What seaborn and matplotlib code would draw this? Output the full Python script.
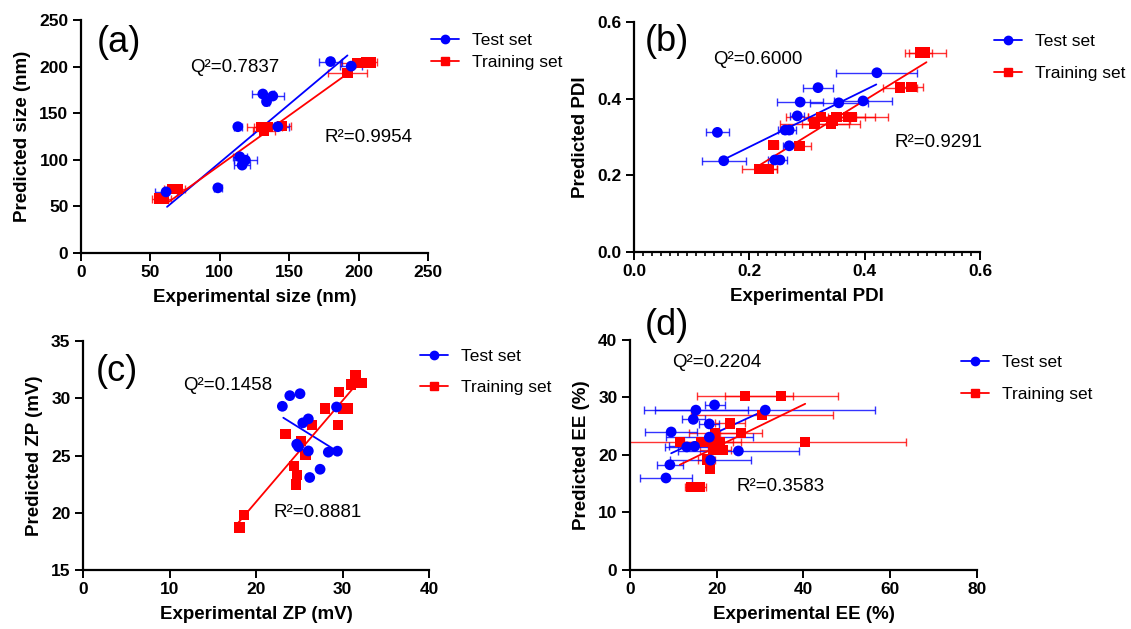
import matplotlib
matplotlib.use("Agg")
import matplotlib.pyplot as plt
from matplotlib.lines import Line2D
from matplotlib.ticker import MultipleLocator, FormatStrFormatter
import numpy as np
import seaborn as sns

# ---- (a) size ----
a_test_x = [179.8, 194.7, 131.0, 138.2, 133.7, 113.0, 141.8, 114.4, 118.5, 116.1, 98.6, 61.3]
a_test_y = [205.4, 200.5, 170.6, 168.4, 162.4, 135.5, 135.5, 103.2, 99.6, 94.3, 69.9, 65.6]
a_test_err = [8, 8, 8, 8, 2, 3, 8, 5, 8, 6, 3, 8]
a_train_x = [199.2, 205.5, 209.0, 192.0, 129.5, 132.0, 134.5, 145.0, 66.0, 70.0, 56.0, 59.6]
a_train_y = [203.5, 204.5, 204.5, 193.0, 135.0, 131.0, 135.5, 136.0, 69.0, 69.0, 58.4, 58.4]
a_train_err = [12, 5, 4, 14, 10, 8, 10, 6, 6, 5, 5, 5]
a_test_fit = ([62.0, 192.0], [49.5, 212.0])
a_train_fit = ([63.2, 201.0], [54.8, 202.0])

# ---- (b) PDI ----
b_test_x = [0.421, 0.319, 0.288, 0.355, 0.397, 0.283, 0.262, 0.269, 0.1445, 0.269, 0.1555, 0.244, 0.253]
b_test_y = [0.4675, 0.4286, 0.391, 0.389, 0.394, 0.355, 0.318, 0.318, 0.312, 0.277, 0.238, 0.240, 0.240]
b_test_err = [0.07, 0.026, 0.04, 0.05, 0.05, 0.012, 0.012, 0.012, 0.02, 0.01, 0.038, 0.012, 0.012]
b_train_x = [0.496, 0.505, 0.461, 0.481, 0.324, 0.351, 0.371, 0.377, 0.313, 0.342, 0.345, 0.242, 0.287, 0.217, 0.2335]
b_train_y = [0.520, 0.520, 0.429, 0.430, 0.352, 0.352, 0.352, 0.352, 0.335, 0.335, 0.343, 0.279, 0.276, 0.2156, 0.2156]
b_train_err = [0.02, 0.036, 0.03, 0.02, 0.06, 0.05, 0.07, 0.04, 0.06, 0.05, 0.03, 0.007, 0.02, 0.03, 0.015]
b_test_fit = ([0.154, 0.42], [0.24, 0.437])
b_train_fit = ([0.215, 0.507], [0.224, 0.495])

# ---- (c) zeta potential ----
c_test_x = [23.04, 23.9, 25.08, 25.4, 26.04, 29.3, 24.7, 24.9, 26.04, 28.35, 29.4, 27.4, 26.2]
c_test_y = [29.3, 30.23, 30.4, 27.85, 28.2, 29.24, 25.99, 25.76, 25.4, 25.29, 25.38, 23.8, 23.08]
c_train_x = [31.5, 31.0, 32.2, 29.6, 27.96, 30.1, 30.65, 29.5, 26.5, 23.4, 25.2, 25.7, 24.4, 24.7, 24.6, 18.6, 18.1]
c_train_y = [32.0, 31.2, 31.34, 30.52, 29.1, 29.1, 29.1, 27.65, 27.65, 26.86, 26.25, 25.1, 24.1, 23.3, 22.47, 19.8, 18.7]
c_test_fit = ([23.15, 29.1], [28.3, 25.5])
c_train_fit = ([17.8, 32.0], [19.0, 31.57])

# ---- (d) entrapment efficiency ----
d_test_x = [19.5, 31.2, 15.2, 14.6, 18.3, 9.5, 18.3, 13.1, 14.9, 25.0, 18.6, 9.2, 8.3]
d_test_y = [28.7, 27.8, 27.8, 26.2, 25.4, 24.0, 23.1, 21.4, 21.5, 20.7, 19.1, 18.3, 16.0]
d_test_err = [2.3, 25.4, 12, 2.7, 2.3, 6, 10, 5, 6, 14, 9.3, 3, 6]
d_train_x = [26.5, 34.9, 30.4, 23.1, 19.6, 25.6, 11.5, 16.5, 18.5, 20.8, 40.4, 19.2, 21.3, 17.7, 18.5, 14.2, 16.1]
d_train_y = [30.2, 30.2, 27.0, 25.5, 23.8, 23.8, 22.3, 22.3, 22.3, 22.3, 22.3, 20.9, 20.9, 19.2, 17.6, 14.4, 14.4]
d_train_err = [11, 13, 16.4, 3.5, 6, 4.8, 14, 4, 3, 3, 23.3, 3, 2, 2, 0.5, 1.5, 1.5]
d_test_fit = ([9.5, 31.2], [20.3, 27.8])
d_train_fit = ([11.5, 40.4], [18.3, 28.9])

BLUE = "#0000ff"
RED = "#ff0000"

sns.set_theme(style="ticks")
plt.rcParams["font.family"] = ["Liberation Sans", "DejaVu Sans"]
plt.rcParams["text.color"] = "black"
plt.rcParams["axes.labelcolor"] = "black"
plt.rcParams["xtick.color"] = "black"
plt.rcParams["ytick.color"] = "black"

fig = plt.figure(figsize=(11.31, 6.29), dpi=100)
ax_a = fig.add_axes([0.0716, 0.5978, 0.3068, 0.3704])
ax_b = fig.add_axes([0.5606, 0.5994, 0.3060, 0.3657])
ax_c = fig.add_axes([0.0734, 0.0938, 0.3060, 0.3640])
ax_d = fig.add_axes([0.5570, 0.0938, 0.3068, 0.3657])


def draw(ax, tx, ty, terr, rx, ry, rerr, tfit, rfit):
    if rerr is not None:
        ax.errorbar(rx, ry, xerr=rerr, fmt="none", ecolor=RED, elinewidth=1,
                    capsize=3, capthick=1, alpha=0.8, zorder=2)
    if terr is not None:
        ax.errorbar(tx, ty, xerr=terr, fmt="none", ecolor=BLUE, elinewidth=1,
                    capsize=3, capthick=1, alpha=0.8, zorder=2)
    ax.plot(*tfit, color=BLUE, lw=1.3, zorder=3)
    ax.plot(*rfit, color=RED, lw=1.3, zorder=3)
    sns.scatterplot(x=rx, y=ry, ax=ax, color=RED, marker="s", s=55,
                    edgecolor="none", zorder=4)
    sns.scatterplot(x=tx, y=ty, ax=ax, color=BLUE, marker="o", s=60,
                    edgecolor="none", zorder=5)


def style(ax, xlim, ylim, xstep, ystep, xlabel, ylabel, fmt=None):
    ax.set_xlim(*xlim)
    ax.set_ylim(*ylim)
    ax.xaxis.set_major_locator(MultipleLocator(xstep))
    ax.yaxis.set_major_locator(MultipleLocator(ystep))
    if fmt:
        ax.xaxis.set_major_formatter(FormatStrFormatter(fmt))
        ax.yaxis.set_major_formatter(FormatStrFormatter(fmt))
    sns.despine(ax=ax)
    for s in ["left", "bottom"]:
        ax.spines[s].set_linewidth(1.6)
        ax.spines[s].set_color("black")
    ax.tick_params(axis="both", which="major", length=5.5, width=1.4,
                   labelsize=12.5, color="black", labelcolor="black", direction="out")
    for lab in ax.get_xticklabels() + ax.get_yticklabels():
        lab.set_fontweight("bold")
    ax.set_xlabel(xlabel, fontsize=13.5, fontweight="bold", labelpad=6)
    ax.set_ylabel(ylabel, fontsize=13.5, fontweight="bold", labelpad=6)


def annotate(ax, tag, tagpos, q, qpos, r, rpos):
    ax.text(*tagpos, tag, transform=ax.transAxes, fontsize=26, va="center", ha="left")
    ax.text(*qpos, q, transform=ax.transAxes, fontsize=13.5, va="center", ha="left")
    ax.text(*rpos, r, transform=ax.transAxes, fontsize=13.5, va="center", ha="left")


def legend(ax, anchor, spacing):
    handles = [Line2D([], [], color=BLUE, marker="o", ms=6, lw=1.3),
               Line2D([], [], color=RED, marker="s", ms=5.5, lw=1.3)]
    ax.legend(handles, ["Test set", "Training set"], loc="upper left",
              bbox_to_anchor=anchor, frameon=False, fontsize=12.5,
              handlelength=1.6, handletextpad=0.75, labelspacing=spacing,
              borderaxespad=0, borderpad=0)


draw(ax_a, a_test_x, a_test_y, a_test_err, a_train_x, a_train_y, a_train_err, a_test_fit, a_train_fit)
style(ax_a, (0, 250), (0, 250), 50, 50, "Experimental size (nm)", "Predicted size (nm)")
annotate(ax_a, "(a)", (0.045, 0.905), "Q²=0.7837", (0.314, 0.794), "R²=0.9954", (0.703, 0.494))
legend(ax_a, (1.01, 0.943), 0.35)

draw(ax_b, b_test_x, b_test_y, b_test_err, b_train_x, b_train_y, b_train_err, b_test_fit, b_train_fit)
style(ax_b, (0, 0.6), (0, 0.6), 0.2, 0.2, "Experimental PDI", "Predicted PDI", "%.1f")
ax_b.xaxis.set_minor_locator(MultipleLocator(0.2 / 13))
ax_b.tick_params(axis="x", which="minor", length=3, width=1.2, color="black")
annotate(ax_b, "(b)", (0.03, 0.913), "Q²=0.6000", (0.228, 0.835), "R²=0.9291", (0.754, 0.478))
legend(ax_b, (1.04, 0.947), 0.95)

draw(ax_c, c_test_x, c_test_y, None, c_train_x, c_train_y, None, c_test_fit, c_train_fit)
style(ax_c, (0, 40), (15, 35), 10, 5, "Experimental ZP (mV)", "Predicted ZP (mV)")
annotate(ax_c, "(c)", (0.038, 0.865), "Q²=0.1458", (0.289, 0.808), "R²=0.8881", (0.549, 0.253))
legend(ax_c, (0.975, 0.967), 0.95)

draw(ax_d, d_test_x, d_test_y, d_test_err, d_train_x, d_train_y, d_train_err, d_test_fit, d_train_fit)
style(ax_d, (0, 80), (0, 40), 20, 10, "Experimental EE (%)", "Predicted EE (%)")
annotate(ax_d, "(d)", (0.043, 1.065), "Q²=0.2204", (0.121, 0.904), "R²=0.3583", (0.308, 0.365))
legend(ax_d, (0.955, 0.936), 1.0)

for ax in (ax_a, ax_b, ax_c, ax_d):
    ax.set_facecolor("white")

fig.savefig("out.png", dpi=100, facecolor="white")
